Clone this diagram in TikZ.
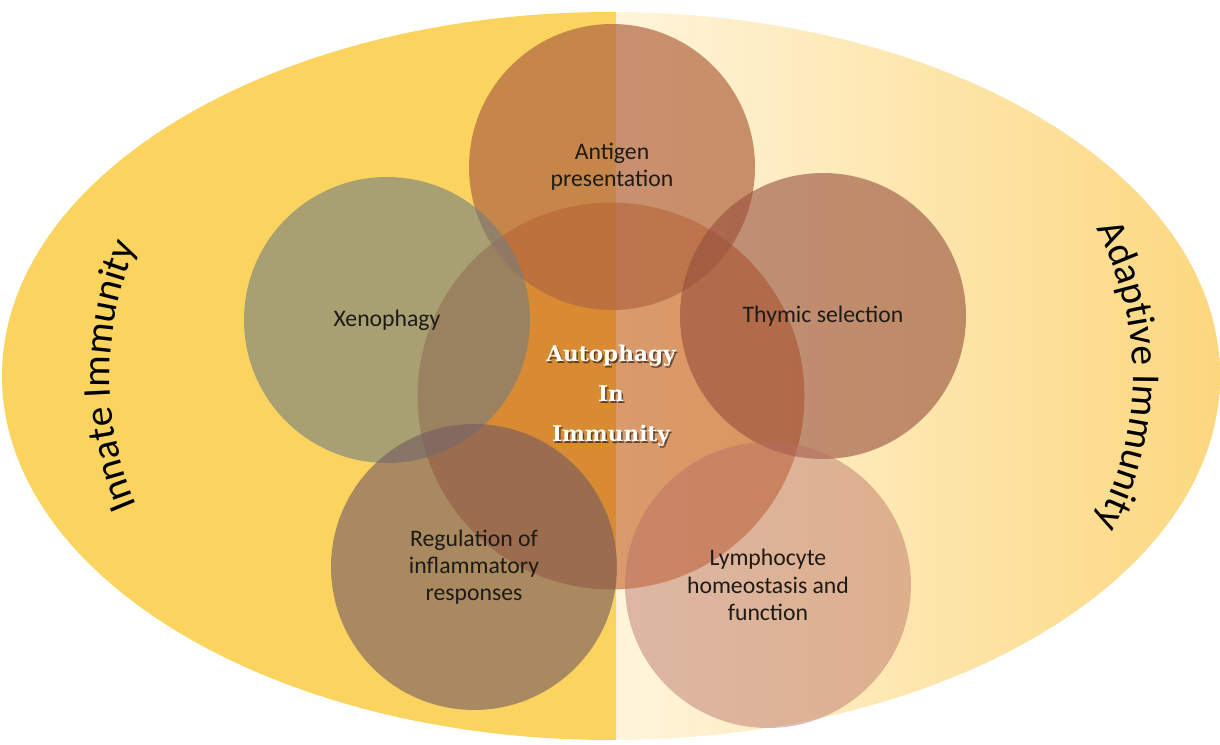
\documentclass[tikz,border=0pt]{standalone}
\usepackage{fontspec}
\usetikzlibrary{decorations.text}
\newfontfamily\labelfont{Carlito}
\newfontfamily\titlefont{DejaVu Serif}
\definecolor{innate}{HTML}{FBD35F}
\definecolor{adaptlight}{HTML}{FFF5DC}
\definecolor{adaptdark}{HTML}{FCD77E}
\definecolor{hubfill}{HTML}{BD500F}
\definecolor{antigenfill}{HTML}{B26641}
\definecolor{xenofill}{HTML}{717D7F}
\definecolor{thymicfill}{HTML}{964E3C}
\definecolor{inflamfill}{HTML}{735A61}
\definecolor{lymphfill}{HTML}{B56D64}
\definecolor{labeltext}{HTML}{1E1A16}

\tikzset{
  bubble/.style={circle, minimum size=5.72cm, inner sep=0pt, align=center,
    text opacity=1, text=labeltext,
    font=\labelfont\fontsize{13.5}{15.5}\selectfont},
  hubtext/.style={align=center, font=\titlefont\bfseries\fontsize{12.3}{22.8}\selectfont},
  sidetext/.style={decorate, decoration={text along path, text align=center,
    text={|\labelfont\fontsize{22.5}{27}\selectfont|#1}}}
}

\begin{document}
\begin{tikzpicture}[x=0.02cm, y=0.02cm]
\useasboundingbox[fill=white] (0,0) rectangle (1220,744);

% two halves of the ellipse
\begin{scope}
  \clip (611,368) ellipse [x radius=609, y radius=364];
  \fill[innate] (0,0) rectangle (616,744);
  \shade[left color=adaptlight, right color=adaptdark] (616,0) rectangle (1220,744);
\end{scope}

% circles
\node[bubble, minimum size=7.74cm, fill=hubfill, fill opacity=0.55] (hub) at (611,348) {};
\node[bubble, fill=antigenfill, fill opacity=0.7] (antigen) at (612,577) {Antigen\\presentation};
\node[bubble, fill=xenofill, fill opacity=0.6] (xeno) at (387,424) {Xenophagy};
\node[bubble, fill=thymicfill, fill opacity=0.6] (thymic) at (823,428) {Thymic selection};
\node[bubble, fill=inflamfill, fill opacity=0.6] (inflam) at (474,177) {Regulation of\\inflammatory\\responses};
\node[bubble, fill=lymphfill, fill opacity=0.45] (lymph) at (768,159) {Lymphocyte\\homeostasis and\\function};

\node[hubtext, text=black, text opacity=0.55] (hubshadow) at ([shift={(1.5,-1.5)}]hub.center) {Autophagy\\In\\Immunity};
\node[hubtext, text=white] (hubtitle) at (hub.center) {Autophagy\\In\\Immunity};

% side labels
\path[sidetext={Innate Immunity}] (440,368) ++(210:330) arc[start angle=210, end angle=150, radius=330];
\path[sidetext={Adaptive Immunity}] (823,368) ++(40:310) arc[start angle=40, end angle=-40, radius=310];
\end{tikzpicture}
\end{document}
